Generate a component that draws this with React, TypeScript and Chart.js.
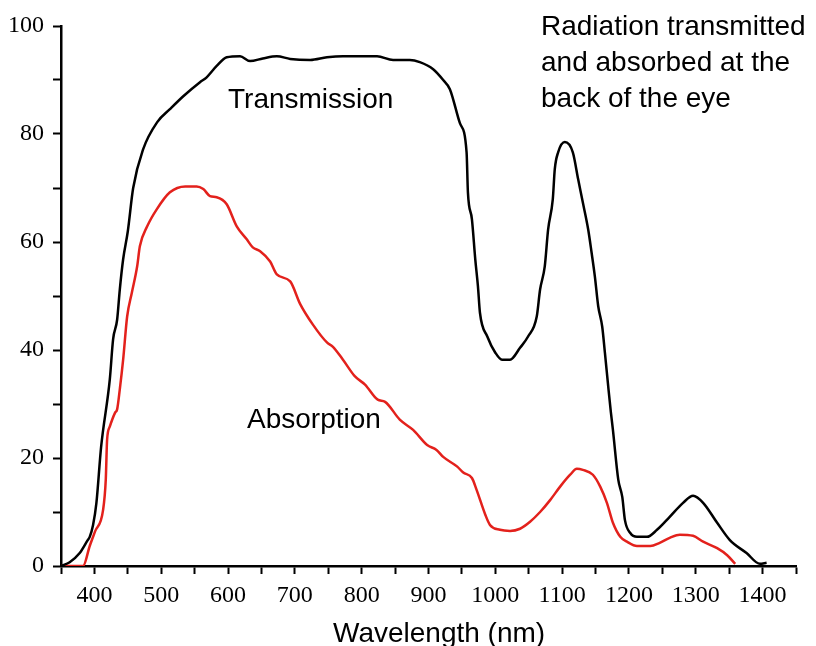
import React, { useEffect, useRef } from "react";
import { Chart, registerables } from "chart.js";

Chart.register(...registerables);

const transWl = [350, 363, 378, 390, 393, 398, 403, 410, 423, 428, 434, 438, 443, 450, 458, 473, 494, 513, 533, 558, 568, 583, 598, 618, 633, 652, 673, 693, 723, 748, 772, 823, 847, 872, 887, 907, 922, 932, 947, 957, 959, 965, 970, 974, 977, 988, 1000, 1010, 1022, 1037, 1049, 1062, 1067, 1074, 1079, 1086, 1089, 1094, 1104, 1116, 1124, 1131, 1139, 1144, 1149, 1154, 1160, 1164, 1169, 1173, 1176, 1184, 1190, 1194, 1202, 1212, 1227, 1242, 1261, 1281, 1296, 1311, 1332, 1351, 1376, 1396, 1406];
const transVal = [0, 0.7, 2.4, 4.8, 5.4, 7.6, 11.7, 22, 34.5, 42, 45.6, 51.2, 56.8, 62, 70, 77.2, 82.2, 84.6, 87, 89.6, 90.5, 92.6, 94.2, 94.4, 93.5, 94, 94.4, 93.9, 93.7, 94.2, 94.4, 94.4, 93.7, 93.7, 93.3, 92, 90, 88.3, 82, 76.6, 69.2, 64.2, 56.8, 51.8, 46.9, 42.5, 39.5, 38.2, 38.2, 40.4, 42.5, 46.2, 51.2, 55.5, 62.3, 67.9, 73.5, 76.6, 78.5, 76.6, 71.6, 67.3, 62.3, 58.1, 53.6, 48.1, 44.3, 39.5, 33.2, 28.4, 25.2, 16, 12.8, 8.5, 6.1, 5.4, 5.4, 6.7, 9.1, 11.7, 13, 11.7, 8, 4.8, 2.4, 0.4, 0.6];

const absWl = [350, 383, 393, 401, 413, 417, 419, 423, 431, 434, 438, 443, 449, 456, 464, 468, 479, 493, 513, 536, 553, 563, 573, 583, 598, 613, 628, 637, 648, 663, 673, 693, 708, 727, 748, 757, 772, 790, 805, 824, 835, 857, 877, 898, 912, 922, 943, 952, 965, 972, 985, 992, 1007, 1022, 1037, 1052, 1067, 1082, 1097, 1112, 1122, 1131, 1146, 1157, 1167, 1176, 1187, 1197, 1212, 1232, 1246, 1261, 1276, 1296, 1311, 1332, 1347, 1359];
const absVal = [0, 0, 3.7, 6.4, 10.4, 16, 23.4, 25.8, 28.4, 29, 32.7, 38.2, 46.2, 50.6, 55.5, 59.2, 62.9, 66, 69.2, 70.3, 70.3, 69.8, 68.5, 68.3, 67, 62.9, 60.5, 59, 58.3, 56.4, 54, 52.7, 48.5, 44.7, 41.4, 40.6, 38.2, 35.1, 33.6, 30.8, 30.4, 27.1, 25.2, 22.4, 21.5, 20.2, 18.4, 17.3, 16.3, 14.1, 9.5, 7.6, 6.7, 6.5, 6.9, 8.2, 10, 12.2, 14.7, 16.9, 18, 17.8, 16.9, 14.7, 11.7, 8, 5.4, 4.5, 3.7, 3.7, 4.3, 5.2, 5.8, 5.6, 4.5, 3.3, 2, 0.4];

const xMin = 350;
const xMax = 1450;
const xStep = 50;
const xLabelEvery = 100;
const yMin = 0;
const yMax = 100;
const yStep = 10;
const yLabelEvery = 20;

const seriesNames = ["Transmission", "Absorption"];
const noteLines = ["Radiation transmitted", "and absorbed at the", "back of the eye"];
const xTitle = "Wavelength (nm)";

const SANS = "'Liberation Sans', Arial, sans-serif";
const SERIF = "'Liberation Serif', 'Times New Roman', serif";

const textPlugin = {
  id: "textPlugin",
  afterDraw(chart: any) {
    const ctx = chart.ctx;
    ctx.save();
    ctx.fillStyle = "#000";
    ctx.font = `28px ${SANS}`;
    ctx.textAlign = "left";
    ctx.textBaseline = "alphabetic";
    noteLines.forEach((l, i) => ctx.fillText(l, 541, 35 + i * 36));
    ctx.fillText(seriesNames[0], 228, 108);
    ctx.fillText(seriesNames[1], 247, 428);
    ctx.fillText(xTitle, 333, 642);
    ctx.restore();
  },
};

export default function App() {
  const ref = useRef<HTMLCanvasElement>(null);
  useEffect(() => {
    document.body.style.margin = "0";
    const trans = transWl.map((x, i) => ({ x, y: transVal[i] }));
    const abs = absWl.map((x, i) => ({ x, y: absVal[i] }));
    const chart = new Chart(ref.current!, {
      type: "line",
      data: {
        datasets: [
          {
            label: seriesNames[0],
            data: trans,
            borderColor: "#000000",
            borderWidth: 2.5,
            pointRadius: 0,
            cubicInterpolationMode: "monotone",
            fill: false,
          },
          {
            label: seriesNames[1],
            data: abs,
            borderColor: "#e3211c",
            borderWidth: 2.5,
            pointRadius: 0,
            cubicInterpolationMode: "monotone",
            fill: false,
          },
        ],
      },
      options: {
        animation: false,
        responsive: false,
        devicePixelRatio: 1,
        layout: { padding: { top: 26, right: 20, left: 0, bottom: 0 } },
        plugins: { legend: { display: false }, tooltip: { enabled: false } },
        scales: {
          x: {
            type: "linear",
            min: xMin,
            max: xMax,
            afterFit: (s: any) => {
              s.height = 80;
            },
            afterBuildTicks: (s: any) => {
              const t = [];
              for (let v = xMin; v <= xMax; v += xStep) t.push({ value: v });
              s.ticks = t;
            },
            ticks: {
              autoSkip: false,
              maxRotation: 0,
              padding: 7,
              color: "#000",
              font: { family: SERIF, size: 24 },
              callback: (v: any) => (Number(v) % xLabelEvery === 0 ? String(v) : ""),
            },
            grid: {
              drawOnChartArea: false,
              drawTicks: true,
              tickLength: 8,
              tickWidth: 2,
              tickColor: "#000",
              color: "#000",
            },
            border: { display: true, color: "#000", width: 2.5 },
          },
          y: {
            type: "linear",
            min: yMin,
            max: yMax,
            afterFit: (s: any) => {
              s.width = 61;
            },
            afterBuildTicks: (s: any) => {
              const t = [];
              for (let v = yMin; v <= yMax; v += yStep) t.push({ value: v });
              s.ticks = t;
            },
            ticks: {
              autoSkip: false,
              padding: 9,
              color: "#000",
              font: { family: SERIF, size: 24 },
              callback: (v: any) => (Number(v) % yLabelEvery === 0 ? String(v) : ""),
            },
            grid: {
              drawOnChartArea: false,
              drawTicks: true,
              tickLength: 8,
              tickWidth: 2,
              tickColor: "#000",
              color: "#000",
            },
            border: { display: true, color: "#000", width: 2.5 },
          },
        },
      },
      plugins: [textPlugin],
    });
    return () => chart.destroy();
  }, []);
  return <canvas ref={ref} width={816} height={646} style={{ display: "block", width: 816, height: 646 }} />;
}
